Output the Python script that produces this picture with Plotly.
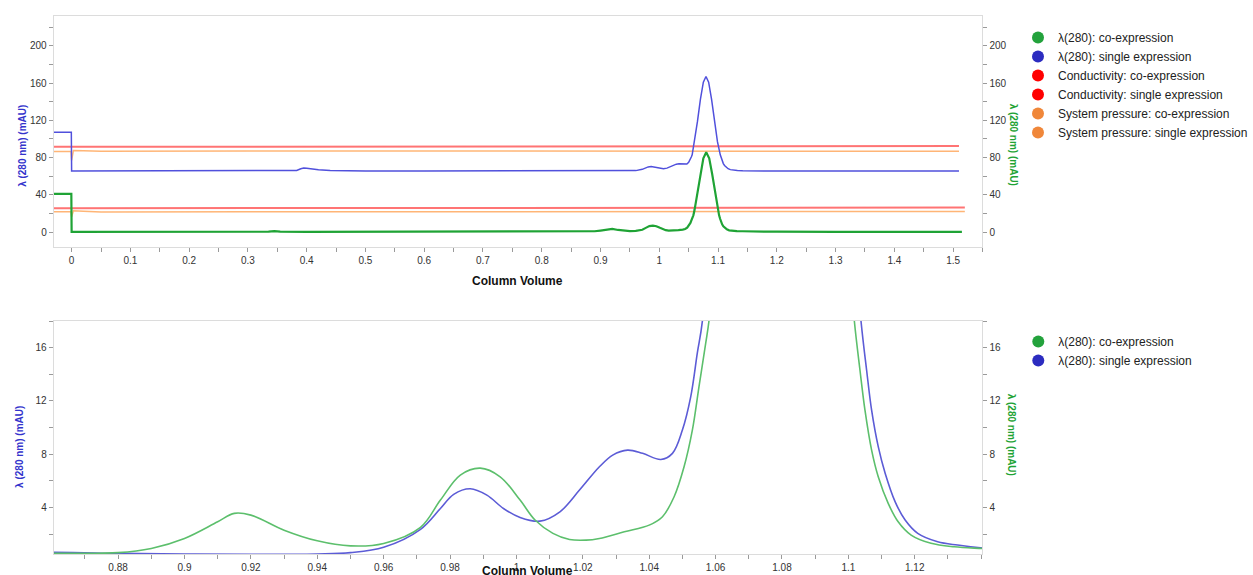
import plotly.graph_objects as go

# ---------------- data ----------------
# lambda(280) single expression: column volume / absorbance (mAU, true values)
blue_x = [-0.0305, -0.0005, 0.0, 0.05, 0.1, 0.2, 0.3, 0.335, 0.345, 0.355,
          0.375, 0.383, 0.39, 0.395, 0.40, 0.41, 0.42, 0.44, 0.46, 0.5,
          0.6, 0.7, 0.8, 0.8606, 0.88, 0.90, 0.92, 0.94, 0.95, 0.96,
          0.9711, 0.9771, 0.9811, 0.9861, 0.9911, 0.9961, 1.0011, 1.0071, 1.0131, 1.019,
          1.025, 1.029, 1.0335, 1.038, 1.0435, 1.047, 1.050, 1.0525, 1.0545, 1.056,
          1.06, 1.065, 1.07, 1.075, 1.0795, 1.084, 1.089, 1.094, 1.099, 1.1038,
          1.1055, 1.107, 1.109, 1.1111, 1.1141, 1.1171, 1.1209, 1.1269, 1.1329, 1.1419,
          1.16, 1.2, 1.3, 1.4, 1.51]
blue_y = [42.2, 42.2, 0.5, 0.5, 0.4, 0.45, 0.5, 0.6, 1.0, 0.7,
          0.6, 1.2, 3.0, 3.8, 3.5, 2.6, 1.9, 1.2, 0.8, 0.6,
          0.55, 0.55, 0.55, 0.62, 0.55, 0.5, 0.47, 0.5, 0.6, 1.0,
          2.35, 3.92, 4.98, 5.4, 4.92, 3.92, 3.25, 2.97, 3.67, 5.3,
          7.05, 7.93, 8.3, 8.06, 7.6, 8.06, 9.81, 12.3, 15.6, 17.95,
          32.1, 53.8, 77.5, 95.9, 102.0, 95.9, 77.5, 53.8, 32.1, 18.0,
          14.3, 11.3, 8.56, 6.55, 4.42, 3.05, 2.05, 1.42, 1.17, 0.92,
          0.7, 0.55, 0.5, 0.5, 0.5]

# lambda(280) co-expression
green_x = [-0.0305, -0.0005, 0.0, 0.1, 0.2, 0.3, 0.335, 0.345, 0.355, 0.4,
           0.5, 0.6, 0.7, 0.8, 0.8606, 0.88, 0.89, 0.90, 0.91, 0.915,
           0.92, 0.93, 0.94, 0.95, 0.96, 0.9711, 0.9771, 0.9831, 0.9891, 0.9951,
           1.0011, 1.0056, 1.011, 1.016, 1.021, 1.025, 1.0325, 1.04, 1.044, 1.0475,
           1.0505, 1.053, 1.055, 1.057, 1.058, 1.06, 1.065, 1.07, 1.075, 1.0799,
           1.085, 1.09, 1.095, 1.1, 1.1018, 1.1035, 1.105, 1.107, 1.109, 1.112,
           1.115, 1.1189, 1.1249, 1.1319, 1.1419, 1.16, 1.2, 1.3, 1.4, 1.515]
green_y = [41.0, 41.0, 0.3, 0.2, 0.2, 0.3, 0.4, 1.0, 0.5, 0.3,
           0.3, 0.4, 0.5, 0.5, 0.55, 0.6, 0.92, 1.67, 2.92, 3.55,
           3.42, 2.29, 1.49, 1.11, 1.29, 2.5, 4.55, 6.43, 6.95, 6.3,
           4.55, 3.05, 2.05, 1.59, 1.54, 1.67, 2.17, 2.67, 3.3, 4.8,
           7.05, 9.8, 13.07, 16.3, 18.0, 23.6, 41.6, 62.3, 79.3, 85.7,
           79.3, 62.3, 41.6, 23.6, 18.0, 14.3, 11.3, 8.3, 6.3, 4.3,
           2.92, 1.92, 1.3, 1.04, 0.89, 0.6, 0.4, 0.3, 0.3, 0.3]

# Conductivity and system pressure traces (as displayed on the top panel)
cond_single_x = [-0.0305, 0.3, 0.6, 0.9, 0.93, 1.2, 1.51]
cond_single_y = [91.5, 91.5, 91.6, 91.6, 92.2, 92.3, 92.3]
cond_co_x = [-0.0305, 0.3, 0.6, 0.9, 0.95, 1.2, 1.52]
cond_co_y = [25.6, 25.6, 25.7, 25.8, 26.2, 26.3, 26.3]
press_single_x = [-0.0305, -0.001, 0.0, 0.003, 0.02, 0.05, 0.3, 0.6, 0.9, 1.2, 1.51]
press_single_y = [86.6, 86.6, 77.0, 87.6, 87.3, 86.8, 87.0, 87.0, 87.0, 86.9, 86.9]
press_co_x = [-0.0305, -0.001, 0.0, 0.003, 0.02, 0.05, 0.3, 0.6, 0.9, 1.2, 1.52]
press_co_y = [21.8, 21.8, 16.5, 22.9, 22.5, 21.7, 21.8, 22.0, 22.0, 22.1, 22.1]

BLUE_OFFSET = 65.0   # display offset of the single-expression trace in the overview panel

top_x_ticks = [0, 0.1, 0.2, 0.3, 0.4, 0.5, 0.6, 0.7, 0.8, 0.9, 1, 1.1, 1.2, 1.3, 1.4, 1.5]
top_x_labels = ["0", "0.1", "0.2", "0.3", "0.4", "0.5", "0.6", "0.7", "0.8", "0.9", "1",
                "1.1", "1.2", "1.3", "1.4", "1.5"]
top_y_ticks = [0, 40, 80, 120, 160, 200]
bot_x_ticks = [0.88, 0.9, 0.92, 0.94, 0.96, 0.98, 1.0, 1.02, 1.04, 1.06, 1.08, 1.1, 1.12]
bot_x_labels = ["0.88", "0.9", "0.92", "0.94", "0.96", "0.98", "1", "1.02", "1.04", "1.06",
                "1.08", "1.1", "1.12"]
bot_y_ticks = [4, 8, 12, 16]

legend_names = ["λ(280): co-expression", "λ(280): single expression",
                "Conductivity: co-expression", "Conductivity: single expression",
                "System pressure: co-expression", "System pressure: single expression"]
legend_colors = ["#23a23c", "#2c2cc0", "#ff0000", "#ff0000", "#f0873a", "#f0873a"]

# ---------------- styles ----------------
W, H = 1253, 575
FONT = "Liberation Sans, Arial, sans-serif"
C_BLUE = "#5050dc"
C_GREEN = "#1fa335"
C_RED = "rgba(255,70,70,0.75)"
C_ORANGE = "rgba(255,150,60,0.7)"

fig = go.Figure()

# top panel
fig.add_trace(go.Scatter(x=cond_single_x, y=cond_single_y, mode="lines", xaxis="x", yaxis="y",
                         line=dict(color=C_RED, width=2), showlegend=False, hoverinfo="skip"))
fig.add_trace(go.Scatter(x=cond_co_x, y=cond_co_y, mode="lines", xaxis="x", yaxis="y",
                         line=dict(color=C_RED, width=2), showlegend=False, hoverinfo="skip"))
fig.add_trace(go.Scatter(x=press_single_x, y=press_single_y, mode="lines", xaxis="x", yaxis="y",
                         line=dict(color=C_ORANGE, width=1.5), showlegend=False, hoverinfo="skip"))
fig.add_trace(go.Scatter(x=press_co_x, y=press_co_y, mode="lines", xaxis="x", yaxis="y",
                         line=dict(color=C_ORANGE, width=1.5), showlegend=False, hoverinfo="skip"))
fig.add_trace(go.Scatter(x=blue_x, y=[v + BLUE_OFFSET for v in blue_y], mode="lines",
                         xaxis="x", yaxis="y",
                         line=dict(color=C_BLUE, width=1.5, shape="linear"),
                         showlegend=False))
fig.add_trace(go.Scatter(x=green_x, y=green_y, mode="lines", xaxis="x", yaxis="y2",
                         line=dict(color=C_GREEN, width=2.2, shape="linear"),
                         showlegend=False))

# bottom panel (zoom)
fig.add_trace(go.Scatter(x=green_x, y=green_y, mode="lines", xaxis="x2", yaxis="y4",
                         line=dict(color="#5cbf6c", width=1.6, shape="spline", smoothing=1),
                         showlegend=False))
fig.add_trace(go.Scatter(x=blue_x, y=blue_y, mode="lines", xaxis="x2", yaxis="y3",
                         line=dict(color="#5c5cd6", width=1.6, shape="spline", smoothing=1),
                         showlegend=False))

# legend entries (circle symbols)
for name, col in zip(legend_names, legend_colors):
    fig.add_trace(go.Scatter(x=[None], y=[None], mode="markers", xaxis="x", yaxis="y",
                             name=name, legend="legend",
                             marker=dict(color=col, size=12, symbol="circle")))
for name, col in zip(legend_names[:2], legend_colors[:2]):
    fig.add_trace(go.Scatter(x=[None], y=[None], mode="markers", xaxis="x2", yaxis="y3",
                             name=name, legend="legend2",
                             marker=dict(color=col, size=12, symbol="circle")))

AX_LINE = "#dcdcdc"
TICK_C = "#9a9a9a"
tickfont = dict(family=FONT, size=10, color="#333333")
xdom = [54 / W, 988 / W]
top_dom = [1 - 247 / H, 1 - 16 / H]
bot_dom = [1 - 554 / H, 1 - 321 / H]

common = dict(showgrid=False, zeroline=False, showline=True, linecolor=AX_LINE, linewidth=1,
              ticks="outside", ticklen=4, tickcolor=TICK_C, tickfont=tickfont)

fig.update_layout(
    width=W, height=H,
    margin=dict(l=0, r=0, t=0, b=0),
    paper_bgcolor="white", plot_bgcolor="white",
    font=dict(family=FONT, size=12, color="#222"),
    xaxis=dict(domain=xdom, anchor="y", range=[-0.0305, 1.55], tickmode="array",
               tickvals=top_x_ticks, ticktext=top_x_labels, mirror=True,
               minor=dict(dtick=0.05, tick0=0, ticks="outside", ticklen=4, tickcolor=TICK_C),
               **common),
    yaxis=dict(domain=top_dom, anchor="x", range=[-16, 232], tickmode="array",
               tickvals=top_y_ticks,
               minor=dict(dtick=20, tick0=0, ticks="outside", ticklen=4, tickcolor=TICK_C),
               **common),
    yaxis2=dict(overlaying="y", side="right", anchor="x", range=[-16, 232], tickmode="array",
                tickvals=top_y_ticks,
                minor=dict(dtick=20, tick0=0, ticks="outside", ticklen=4, tickcolor=TICK_C),
                **common),
    xaxis2=dict(domain=xdom, anchor="y3", range=[0.8606, 1.1404], tickmode="array",
                tickvals=bot_x_ticks, ticktext=bot_x_labels, mirror=True,
                minor=dict(dtick=0.01, tick0=0.86, ticks="outside", ticklen=4, tickcolor=TICK_C),
                **common),
    yaxis3=dict(domain=bot_dom, anchor="x2", range=[0.5, 18], tickmode="array",
                tickvals=bot_y_ticks,
                minor=dict(dtick=2, tick0=0, ticks="outside", ticklen=4, tickcolor=TICK_C),
                **common),
    yaxis4=dict(overlaying="y3", side="right", anchor="x2", range=[0.5, 18], tickmode="array",
                tickvals=bot_y_ticks,
                minor=dict(dtick=2, tick0=0, ticks="outside", ticklen=4, tickcolor=TICK_C),
                **common),
    legend=dict(x=1024 / W, xanchor="left", y=1 - 23 / H, yanchor="top",
                font=dict(family=FONT, size=12, color="#222"), bgcolor="rgba(0,0,0,0)",
                itemwidth=30, tracegroupgap=0),
    legend2=dict(x=1024 / W, xanchor="left", y=1 - 327 / H, yanchor="top",
                 font=dict(family=FONT, size=12, color="#222"), bgcolor="rgba(0,0,0,0)",
                 itemwidth=30, tracegroupgap=0),
)

title_font_b = dict(family=FONT, size=10, color="#3333cc")
title_font_g = dict(family=FONT, size=10, color="#1fa335")
ann = [
    dict(text="<b>λ (280 nm) (mAU)</b>", x=23 / W, y=1 - 146 / H, textangle=-90, font=title_font_b),
    dict(text="<b>λ (280 nm) (mAU)</b>", x=1020 / W, y=1 - 145 / H, textangle=90, font=title_font_g),
    dict(text="<b>λ (280 nm) (mAU)</b>", x=19 / W, y=1 - 447 / H, textangle=-90, font=title_font_b),
    dict(text="<b>λ (280 nm) (mAU)</b>", x=1018 / W, y=1 - 435 / H, textangle=90, font=title_font_g),
    dict(text="<b>Column Volume</b>", x=520 / W, y=1 - 281 / H,
         font=dict(family=FONT, size=12, color="#111")),
    dict(text="<b>Column Volume</b>", x=530 / W, y=1 - 571 / H,
         font=dict(family=FONT, size=12, color="#111")),
]
for a in ann:
    fig.add_annotation(xref="paper", yref="paper", showarrow=False, xanchor="center",
                       yanchor="middle", **a)

fig.write_html("out.html", config={"displayModeBar": False},
               post_script="document.body.style.margin='0';document.body.style.overflow='hidden';")
